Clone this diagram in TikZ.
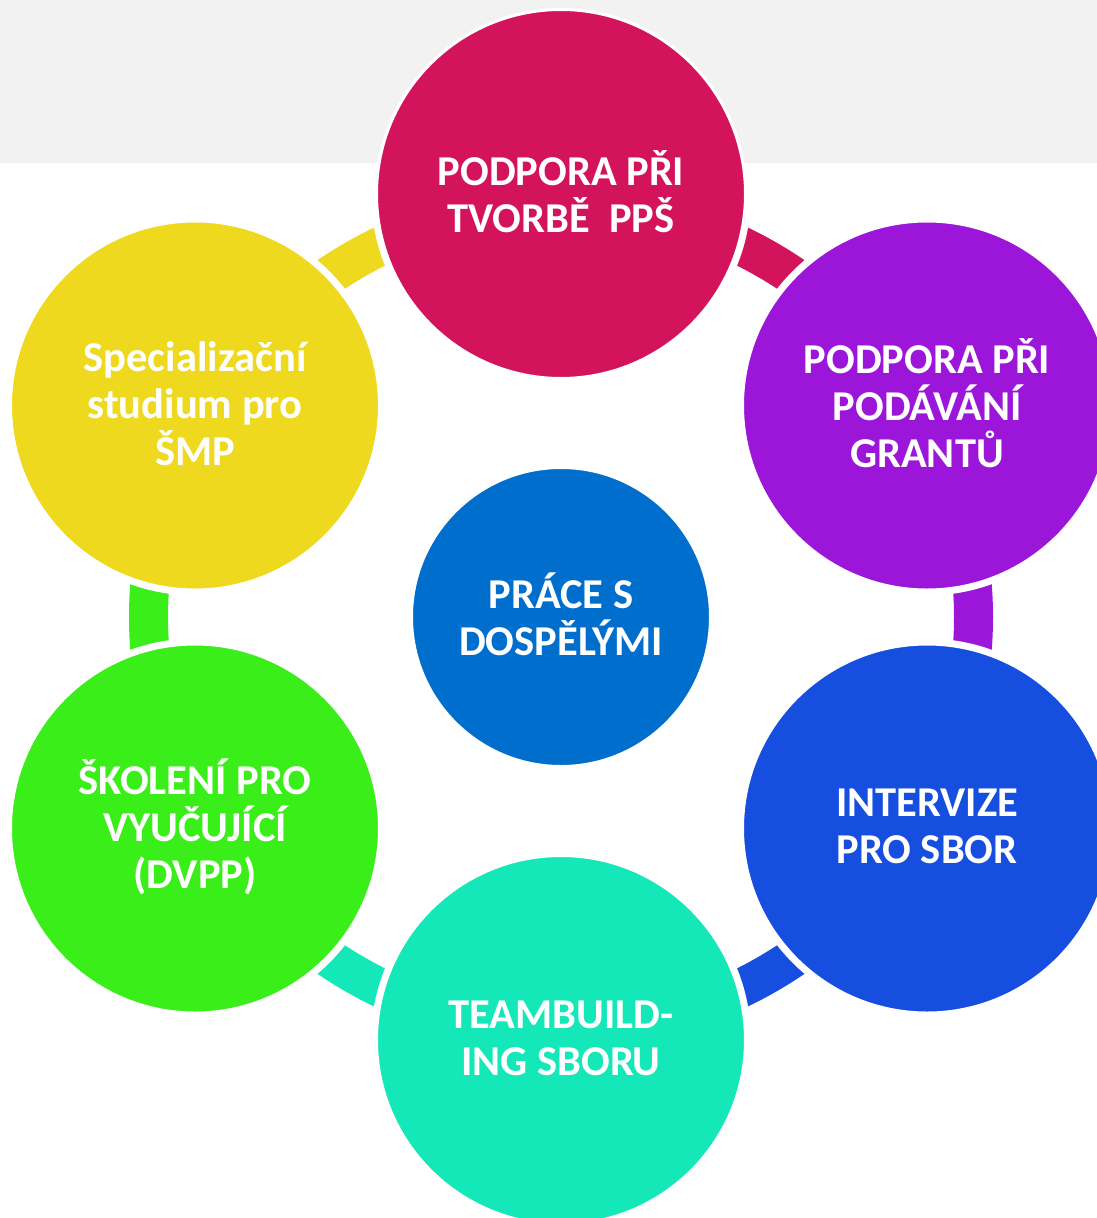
\documentclass[tikz,border=0pt]{standalone}
\usepackage{fontspec}
\setmainfont{Carlito}
\definecolor{cCrimson}{HTML}{D3145C}
\definecolor{cPurple}{HTML}{9B16D8}
\definecolor{cBlue}{HTML}{164FE0}
\definecolor{cTeal}{HTML}{14E8B9}
\definecolor{cGreen}{HTML}{3AEE1A}
\definecolor{cYellow}{HTML}{EED91F}
\definecolor{cCenter}{HTML}{006ECC}
\definecolor{cGray}{HTML}{F2F2F2}
\begin{document}
\begin{tikzpicture}[x=1pt,y=-1pt,
  disc/.style={circle, minimum size=369pt, inner sep=0pt, draw=white, line width=3pt, fill=#1},
  txt/.style={text=white, font=\fontsize{42.5}{47}\selectfont\bfseries, align=center, inner sep=0pt},
  seg/.style={draw=#1, line width=39pt}]
\useasboundingbox (0,0) rectangle (1097,1218);
\fill[white] (0,0) rectangle (1097,1218);
\coordinate (O) at (561,617);
\coordinate (pt) at (561,194);
\coordinate (ptr) at (927,405.5);
\coordinate (pbr) at (927,828.5);
\coordinate (pb) at (561,1040);
\coordinate (pbl) at (195,828.5);
\coordinate (ptl) at (195,405.5);
% ring segments
\draw[seg=cCrimson] (O) ++(-90:412.5) arc[start angle=-90, end angle=-30, radius=412.5];
\draw[seg=cPurple] (O) ++(-30:412.5) arc[start angle=-30, end angle=30, radius=412.5];
\draw[seg=cBlue] (O) ++(30:412.5) arc[start angle=30, end angle=90, radius=412.5];
\draw[seg=cTeal] (O) ++(90:412.5) arc[start angle=90, end angle=150, radius=412.5];
\draw[seg=cGreen] (O) ++(150:412.5) arc[start angle=150, end angle=210, radius=412.5];
\draw[seg=cYellow] (O) ++(210:412.5) arc[start angle=210, end angle=270, radius=412.5];
% gaps around circles
\foreach \p in {pt,ptr,pbr,pb,pbl,ptl} \fill[white] (\p) circle[radius=190];
\fill[cGray] (0,0) rectangle (1097,163);
% circles
\node[disc=cCrimson] (t) at (pt) {};
\node[disc=cPurple] (tr) at (ptr) {};
\node[disc=cBlue] (br) at (pbr) {};
\node[disc=cTeal] (b) at (pb) {};
\node[disc=cGreen] (bl) at (pbl) {};
\node[disc=cYellow] (tl) at (ptl) {};
\node[disc=cCenter, minimum size=299pt] (c) at (O) {};
% labels
\node[txt] (tT) at ([yshift=2.5pt]t.center) {PODPORA PŘI\\TVORBĚ\ \ PPŠ};
\node[txt] (trT) at ([yshift=2.5pt]tr.center) {PODPORA PŘI\\PODÁVÁNÍ\\GRANTŮ};
\node[txt] (brT) at ([yshift=2pt]br.center) {INTERVIZE\\PRO SBOR};
\node[txt] (bT) at ([yshift=2pt]b.center) {TEAMBUILD-\\ING SBORU};
\node[txt] (blT) at ([yshift=1.5pt]bl.center) {ŠKOLENÍ PRO\\VYUČUJÍCÍ\\(DVPP)};
\node[txt] (tlT) at ([yshift=2pt]tl.center) {Specializační\\studium pro\\ŠMP};
\node[txt] (cT) at ([yshift=3pt]c.center) {PRÁCE S\\DOSPĚLÝMI};
\end{tikzpicture}
\end{document}
